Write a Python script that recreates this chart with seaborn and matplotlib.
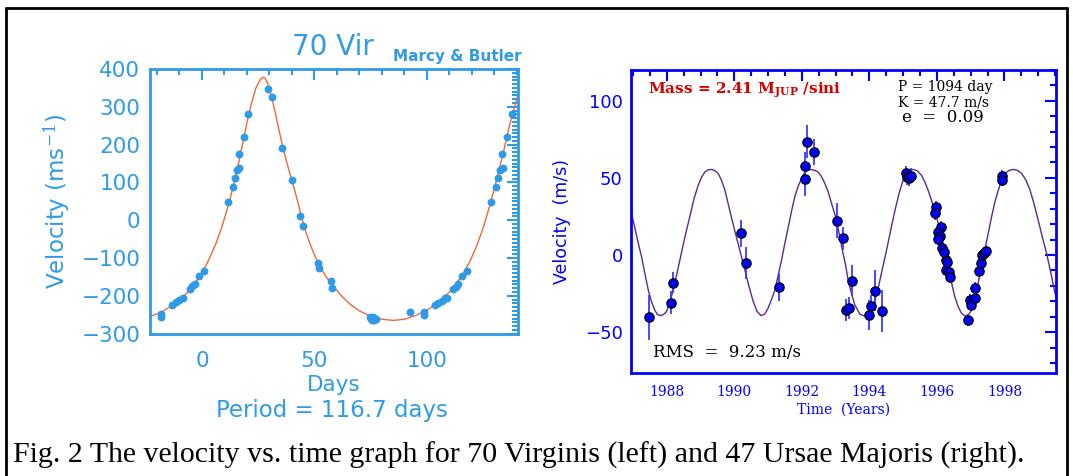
""" Radial velocity curves of 70 Vir (left) and 47 UMa (right), redrawn
from the figure in the discovery notes.
"""

import matplotlib
matplotlib.use('Agg')
import matplotlib.pyplot as plt
from matplotlib.ticker import MultipleLocator
from matplotlib.lines import Line2D
import pandas as pd
import seaborn as sns

sns.set_theme(style='white')
plt.rcParams['font.family'] = ['DejaVu Sans']
plt.rcParams['mathtext.fontset'] = 'dejavuserif'

# 70 Vir, phased velocities (days, m/s) - points past one period are repeats
vir_days = [-18.4, -18.3, -13.2, -11.7, -10.1, -8.6, -5.3, -4.3, -3.1, -1.5,
            0.7, 11.6, 13.6, 14.7, 15.4, 16.6, 16.4, 18.5, 20.6, 29.5, 31.0,
            35.7, 39.9, 43.7, 44.8, 51.7, 51.9, 57.5, 57.6, 74.5, 75.3, 76.0,
            76.5, 77.5, 75.8, 92.4, 98.7, 98.7, 103.6, 105.0, 106.5, 108.0,
            108.7, 111.7, 112.9, 114.0, 115.7, 117.6, 128.3, 130.5, 131.4,
            132.4, 133.6, 133.2, 135.7, 137.6]
vir_vel = [-247, -256, -223, -217, -210, -205, -181, -175, -170, -147,
           -134, 47, 88, 113, 132, 137, 175, 221, 280, 348, 325,
           192, 106, 11, -15, -113, -126, -160, -178, -255, -262, -256,
           -263, -261, -265, -243, -243, -250, -225, -219, -213, -207,
           -205, -181, -176, -170, -147, -134, 47, 88, 113,
           132, 137, 176, 220, 280]

# 70 Vir orbit fit
vir_fit_days = [-23.1, -18, -13, -10, -5, 0, 3, 6, 9, 12, 15, 18, 20, 22, 24,
                26, 27, 28, 29, 30, 32, 34, 36, 38, 40, 42, 44, 46, 48, 50, 52,
                55, 58, 62, 66, 70, 75, 80, 85, 90, 95, 100, 105, 110, 113,
                116, 119, 122, 125, 128, 131, 134, 137, 140, 140.5]
vir_fit_vel = [-255, -243, -225, -212, -182, -140, -105, -65, -15, 45, 115,
               200, 258, 310, 350, 373, 378, 376, 365, 348, 300, 245, 192,
               146, 105, 62, 15, -28, -62, -92, -118, -148, -172, -200, -223,
               -240, -254, -262, -265, -262, -252, -238, -217, -190, -168,
               -143, -110, -70, -20, 40, 108, 180, 258, 322, 332]

# 47 UMa velocities (year, m/s, error m/s)
uma_year = [1987.47, 1988.11, 1988.19, 1990.21, 1990.34, 1991.33, 1992.09,
            1992.09, 1992.14, 1992.35, 1993.03, 1993.21, 1993.50, 1993.32,
            1993.40, 1993.99, 1994.06, 1994.18, 1994.36, 1995.10, 1995.12,
            1995.17, 1995.22, 1995.96, 1995.94, 1996.12, 1996.04, 1996.09,
            1996.02, 1996.16, 1996.22, 1996.26, 1996.31, 1996.28, 1996.35,
            1996.38, 1996.92, 1996.97, 1997.00, 1997.12, 1997.14, 1997.24,
            1997.30, 1997.34, 1997.40, 1997.45, 1997.94, 1997.94]
uma_vel = [-40.4, -30.9, -17.9, 14.0, -5.0, -20.9, 57.9, 49.0, 73.4, 66.9,
           22.2, 10.8, -16.6, -35.6, -34.5, -38.9, -32.8, -23.1, -36.1, 53.0,
           50.5, 49.8, 51.5, 31.3, 27.0, 17.9, 15.1, 12.3, 10.2, 4.3, 2.2,
           -3.2, -4.3, -9.7, -10.8, -14.0, -42.1, -29.1, -32.4, -28.0, -21.6,
           -10.2, -5.0, 0.0, 1.5, 2.8, 51.2, 48.6]
uma_err = [14.5, 7.5, 6.7, 8.6, 10.3, 9.2, 9.0, 10.8, 10.8, 8.6,
           11.3, 7.5, 10.0, 7.0, 7.0, 9.7, 7.0, 13.5, 13.5, 5.0,
           5.0, 5.0, 5.0, 4.0, 4.0, 4.0, 4.0, 4.0, 4.0, 4.0, 4.0,
           4.0, 4.0, 4.0, 4.0, 4.0, 4.0, 4.0, 4.0, 4.0, 4.0,
           4.0, 4.0, 4.0, 4.0, 4.0, 4.0, 4.0]

# 47 UMa orbit fit
uma_fit_year = [1986.94, 1987.05, 1987.15, 1987.25, 1987.35, 1987.45, 1987.55,
                1987.64, 1987.72, 1987.81, 1987.90, 1987.99, 1988.09, 1988.19,
                1988.31, 1988.43, 1988.55, 1988.68, 1988.80, 1988.93, 1989.03,
                1989.13, 1989.22, 1989.32, 1989.42, 1989.52, 1989.62, 1989.72,
                1989.81, 1989.91, 1990.01, 1990.11, 1990.21, 1990.31, 1990.43,
                1990.56, 1990.67, 1990.79, 1990.90, 1991.00, 1991.10, 1991.20,
                1991.30, 1991.40, 1991.50, 1991.60, 1991.70, 1991.79, 1991.89,
                1991.99, 1992.08, 1992.18, 1992.28, 1992.38, 1992.48, 1992.58,
                1992.68, 1992.78, 1992.90, 1993.03, 1993.12, 1993.22, 1993.30,
                1993.37, 1993.47, 1993.57, 1993.72, 1993.84, 1993.96, 1994.06,
                1994.16, 1994.26, 1994.38, 1994.51, 1994.63, 1994.76, 1994.88,
                1995.00, 1995.10, 1995.20, 1995.30, 1995.42, 1995.54, 1995.64,
                1995.74, 1995.84, 1995.94, 1996.04, 1996.14, 1996.24, 1996.33,
                1996.43, 1996.53, 1996.63, 1996.73, 1996.84, 1996.94, 1997.03,
                1997.12, 1997.22, 1997.32, 1997.42, 1997.52, 1997.62, 1997.72,
                1997.82, 1997.92, 1998.01, 1998.15, 1998.28, 1998.40, 1998.51,
                1998.64, 1998.76, 1998.88, 1999.00, 1999.12, 1999.25, 1999.38,
                1999.50, 1999.53]
uma_fit_vel = [28.0, 18.0, 8.0, -1.0, -12.0, -22.7, -30.5, -35.6, -38.5, -39.3,
               -38.6, -36.7, -30.5, -22.7, -11.0, 1.1, 13.0, 24.8, 36.0, 45.3,
               50.5, 53.9, 55.2, 55.5, 54.8, 52.9, 48.5, 42.1, 34.0, 24.8,
               16.0, 7.6, -1.0, -9.5, -20.0, -30.2, -36.5, -39.3, -38.3, -34.5,
               -29.0, -22.7, -13.0, -3.2, 8.0, 18.3, 29.0, 37.8, 44.5, 49.7,
               53.3, 55.1, 55.5, 54.9, 53.8, 51.0, 46.5, 41.0, 32.0, 22.7,
               12.0, 1.1, -7.0, -16.2, -25.0, -32.4, -38.3, -39.5, -38.2, -35.0,
               -29.5, -21.6, -9.5, 3.2, 16.0, 29.1, 40.0, 48.6, 53.0, 55.1,
               55.5, 54.6, 51.8, 47.5, 42.1, 35.5, 28.0, 20.5, 11.9, 2.5,
               -7.6, -17.5, -27.0, -33.5, -37.8, -39.6, -38.6, -35.6, -28.0,
               -18.3, -7.5, 3.2, 14.0, 24.8, 34.5, 42.1, 48.5, 52.9, 55.0,
               55.5, 54.8, 52.9, 48.5, 42.1, 33.0, 22.7, 12.0, 1.1, -12.0,
               -24.8, -27.0]

VIR_BLUE = '#2f9ae6'
VIR_FIT = '#ea6a3c'
UMA_BLUE = '#0000ff'


def style_box(ax, color, major_len, minor_len):
    """ IDL-like box: ticks inward on all four sides. """
    for side in ax.spines.values():
        side.set_color(color)
        side.set_linewidth(2.0)
        side.set_visible(True)
    ax.tick_params(which='both', direction='in', top=True, right=True,
                   color=color, labelcolor=color, width=1.5)
    ax.tick_params(which='major', length=major_len)
    ax.tick_params(which='minor', length=minor_len)


fig = plt.figure(figsize=(10.73, 4.76), dpi=100)
ax_vir = fig.add_axes([0.1398, 0.2983, 0.3430, 0.5567])
ax_uma = fig.add_axes([0.5881, 0.2164, 0.3961, 0.6366])

# Left panel: 70 Vir
vir_fit = pd.DataFrame({'days': vir_fit_days, 'vel': vir_fit_vel})
vir_obs = pd.DataFrame({'days': vir_days, 'vel': vir_vel})
sns.lineplot(data=vir_fit, x='days', y='vel', sort=False, color=VIR_FIT,
             linewidth=1.0, ax=ax_vir)
sns.scatterplot(data=vir_obs, x='days', y='vel', color=VIR_BLUE, s=32,
                linewidth=0, ax=ax_vir, zorder=3)
ax_vir.set_xlim(-23.1, 140.5)
ax_vir.set_ylim(-301, 400)
ax_vir.xaxis.set_major_locator(MultipleLocator(50))
ax_vir.xaxis.set_minor_locator(MultipleLocator(10))
ax_vir.yaxis.set_major_locator(MultipleLocator(100))
ax_vir.yaxis.set_minor_locator(MultipleLocator(10))
style_box(ax_vir, VIR_BLUE, 8, 4)
ax_vir.tick_params(which='major', labelsize=15.5)
ax_vir.tick_params(axis='x', pad=12)
ax_vir.tick_params(axis='y', pad=7)
ax_vir.set_xlabel('Days', color=VIR_BLUE, fontsize=15.5, labelpad=3)
ax_vir.set_ylabel('Velocity (ms$^{-1}$)', color=VIR_BLUE, fontsize=16.5,
                  labelpad=6)
fig.text(333 / 1073, 1 - 47 / 476, '70 Vir', color=VIR_BLUE, fontsize=20,
         ha='center', va='center')
fig.text(393 / 1073, 1 - 57 / 476, 'Marcy & Butler', color=VIR_BLUE,
         fontsize=11, fontweight='bold', ha='left', va='center')
fig.text(332 / 1073, 1 - 411 / 476, 'Period = 116.7 days', color=VIR_BLUE,
         fontsize=16.5, ha='center', va='center')

# Right panel: 47 UMa
uma_fit = pd.DataFrame({'year': uma_fit_year, 'vel': uma_fit_vel})
uma_obs = pd.DataFrame({'year': uma_year, 'vel': uma_vel, 'err': uma_err})
sns.lineplot(data=uma_fit, x='year', y='vel', sort=False, color='#5a2a8e',
             linewidth=1.0, ax=ax_uma)
ax_uma.errorbar(uma_obs.year, uma_obs.vel, yerr=uma_obs.err, fmt='none',
                ecolor='#3a3aff', elinewidth=1.3, capsize=0, zorder=2)
sns.scatterplot(data=uma_obs, x='year', y='vel', color=UMA_BLUE, s=45,
                edgecolor='black', linewidth=0.9, ax=ax_uma, zorder=3)
ax_uma.set_xlim(1986.94, 1999.53)
ax_uma.set_ylim(-76.5, 120)
ax_uma.xaxis.set_major_locator(MultipleLocator(2))
ax_uma.xaxis.set_minor_locator(MultipleLocator(0.5))
ax_uma.yaxis.set_major_locator(MultipleLocator(50))
ax_uma.yaxis.set_minor_locator(MultipleLocator(10))
style_box(ax_uma, UMA_BLUE, 8, 4)
ax_uma.tick_params(axis='y', labelsize=13, pad=6)
ax_uma.tick_params(axis='x', labelsize=10, pad=9)
for lab in ax_uma.get_xticklabels():
    lab.set_family('DejaVu Serif')
ax_uma.set_xlabel('Time  (Years)', color=UMA_BLUE, fontsize=10,
                  family='DejaVu Serif', labelpad=2)
ax_uma.set_ylabel('Velocity  (m/s)', color=UMA_BLUE, fontsize=12.5,
                  labelpad=10)

ax_uma.text(0.04, 0.934, r'Mass = 2.41 M$_\mathbf{JUP}$ /sini',
            transform=ax_uma.transAxes, color='#d40000', fontsize=11,
            fontweight='bold', family='DejaVu Serif', va='center')
ax_uma.text(0.627, 0.944, 'P = 1094 day', transform=ax_uma.transAxes,
            color='black', fontsize=10, family='DejaVu Serif', va='center')
ax_uma.text(0.627, 0.894, 'K = 47.7 m/s', transform=ax_uma.transAxes,
            color='black', fontsize=10, family='DejaVu Serif', va='center')
ax_uma.text(0.638, 0.842, 'e  =  0.09', transform=ax_uma.transAxes,
            color='black', fontsize=12, family='DejaVu Serif', va='center')
ax_uma.text(0.052, 0.066, 'RMS  =  9.23 m/s', transform=ax_uma.transAxes,
            color='black', fontsize=12, family='DejaVu Serif', va='center')

# Caption and surrounding frame
fig.text(13 / 1073, 1 - 455 / 476,
         'Fig. 2 The velocity vs. time graph for 70 Virginis (left) and '
         '47 Ursae Majoris (right).',
         family='Liberation Serif', fontsize=21.5, color='black',
         ha='left', va='center')
frame = dict(color='black', linewidth=2.0, transform=fig.transFigure)
fig.add_artist(Line2D([6 / 1073, 6 / 1073], [0, 1 - 8 / 476], **frame))
fig.add_artist(Line2D([6 / 1073, 1067 / 1073], [1 - 8 / 476, 1 - 8 / 476],
                      **frame))
fig.add_artist(Line2D([1067 / 1073, 1067 / 1073], [0, 1 - 8 / 476], **frame))

fig.savefig('out.png', dpi=100, facecolor='white')
